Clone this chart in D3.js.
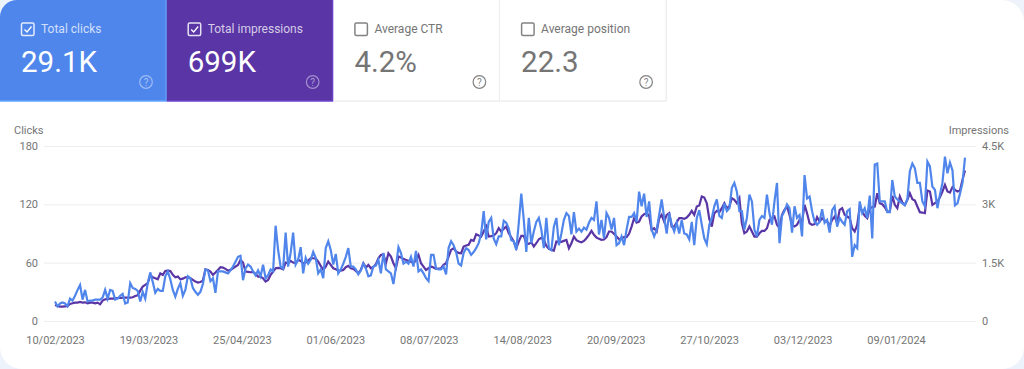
<!DOCTYPE html>
<html>
<head>
<meta charset="utf-8">
<script src="https://cdn.jsdelivr.net/npm/d3@7"></script>
<style>
    html, body { margin: 0; padding: 0; background: #eef3fb; overflow: hidden; }
    text { font-family: Roboto, sans-serif; }
</style>
</head>
<body>
<div id="chart"></div>
<script>
"use strict"

// the four summary tiles
const tileTitles = ["Total clicks", "Total impressions", "Average CTR", "Average position"];
const tileValues = ["29.1K", "699K", "4.2%", "22.3"];
const tileChecked = [true, true, false, false];
const tileColors = ["#4f86ec", "#5935a5", "#ffffff", "#ffffff"];

const startDate = "10/02/2023";
const xTickLabels = ["10/02/2023", "19/03/2023", "25/04/2023", "01/06/2023", "08/07/2023",
    "14/08/2023", "20/09/2023", "27/10/2023", "03/12/2023", "09/01/2024"];
const clickTicks = [0, 60, 120, 180];
const impressionTicks = [0, 1500, 3000, 4500];

// daily values
const clicks = [
    20,15,18,19,18,15,23,21,26,32,37,22,32,20,21,21,22,22,22,24,32,23,32,31,22,23,26,28,18,19,
    39,34,33,31,20,30,23,39,50,40,29,33,31,31,46,51,43,32,25,33,39,26,32,46,44,34,30,27,30,38,
    53,52,41,44,29,51,51,51,50,49,52,56,61,66,67,42,54,58,56,51,47,52,46,58,44,47,53,51,98,73,
    56,54,91,56,70,91,58,63,76,49,65,59,63,71,65,49,53,44,75,82,73,58,69,49,53,59,66,75,
    56,56,53,48,52,59,54,46,47,56,57,63,49,70,53,51,49,38,56,76,70,59,61,59,66,56,72,51,53,49,44,41,
    68,68,54,53,53,56,48,75,82,78,71,59,57,70,75,73,68,71,75,80,90,113,84,102,106,85,79,87,87,103,
    101,95,83,82,73,101,131,104,71,106,80,92,102,106,94,75,106,75,73,97,106,78,90,104,111,108,89,112,92,95,
    92,96,94,101,106,104,123,89,104,85,111,106,94,106,78,80,87,78,94,107,107,111,102,133,118,131,107,123,
    94,87,94,109,125,106,90,111,99,92,101,90,104,90,89,84,102,78,106,114,99,85,79,99,106,118,125,108,106,121,
    113,116,137,142,133,113,113,94,106,130,123,94,87,104,108,106,130,111,99,123,142,80,108,113,120,116,91,118,106,109,
    87,150,126,128,113,102,99,102,115,101,104,91,114,118,97,106,102,99,113,115,66,78,75,123,111,116,106,129,85,161,
    162,123,123,123,112,112,145,128,125,123,121,119,125,154,162,157,142,142,123,118,164,159,138,135,116,130,142,169,152,163,
    155,119,121,131,142,168
];
const impressions = [
    412,386,369,369,378,386,438,455,472,472,489,472,481,455,472,472,455,472,429,524,558,566,575,575,584,592,592,601,601,601,
    601,610,644,661,781,884,927,970,1185,1124,1099,1073,1227,1185,1288,1296,1288,1185,1124,1142,1073,1090,1124,1124,1099,1056,1013,987,1004,1039,
    1331,1314,1271,1185,1245,1314,1383,1374,1340,1297,1314,1357,1400,1443,1571,1503,1271,1263,1254,1263,1211,1142,1142,1100,1014,1057,1185,1271,1357,1365,
    1357,1331,1503,1485,1546,1503,1485,1571,1546,1485,1503,1554,1614,1614,1606,1528,1417,1314,1400,1528,1443,1357,1331,1297,1297,1314,1383,1417,
    1357,1340,1288,1228,1314,1486,1374,1442,1357,1391,1460,1614,1700,1717,1486,1743,1657,1486,1357,1657,1631,1597,1571,1546,1528,1486,1571,1700,1486,1400,1314,1357,
    1400,1374,1340,1348,1357,1442,1486,1657,1829,1872,1786,1752,1743,1915,1940,1958,2086,2060,2232,2198,2172,2301,2430,2172,2181,2198,2258,2387,2300,2369,
    2429,2258,2155,2043,1871,2043,2189,2189,2000,1983,2026,1914,2000,2103,2138,2086,1932,1854,1829,1811,2043,2035,2035,2060,2086,1871,2000,2172,2077,2043,
    2026,2060,2129,2215,2318,2215,2146,2112,2086,2095,2155,2301,2301,2241,2172,2103,2129,2155,2155,2241,2429,2644,2532,2558,2687,2747,2773,2704,
    2343,2386,2300,2643,2729,2557,2729,2772,2429,2429,2540,2643,2643,2626,2660,2729,2832,2729,2944,2969,3201,3175,3029,2626,2429,2772,2832,2798,2901,3029,
    2901,2944,3158,3115,3029,3158,2514,2257,2300,2429,2300,2171,2171,2257,2317,2317,2386,2600,2643,2686,2472,2386,2729,2858,2944,2729,2472,2429,2472,2600,
    2557,2987,2772,2514,2472,2489,2669,2558,2643,2583,2558,2446,2601,2687,2515,2858,2901,2729,2687,2643,2386,2300,2472,2944,2815,2704,2643,2901,2927,2944,
    3287,3030,3004,2927,2815,2815,3219,2987,2901,3201,3047,2987,3116,3287,3133,3098,2944,2798,2789,2772,3356,3330,2987,3030,3073,3184,3330,3502,3330,3304,
    3442,3373,3330,3356,3630,3871
];

let width = 1024, height = 369;
let parseDate = d3.utcParse("%d/%m/%Y");

let svg = d3.select("#chart").append("svg")
    .attr("width", width)
    .attr("height", height)
    .style("display", "block");

svg.append("rect")
    .attr("width", width)
    .attr("height", height)
    .attr("rx", 22)
    .style("fill", "#ffffff");

drawTiles();
drawChart();

function drawTiles() {
    let tileWidth = 166.7, tileHeight = 101;

    tileTitles.forEach(function(title, i) {
        let on = tileChecked[i];
        let g = svg.append("g").attr("transform", "translate(" + (i * tileWidth) + ",0)");

        if (i == 0) {
            // only the first tile follows the rounded corner of the card
            g.append("path")
                .attr("d", "M0,17A17,17 0 0 1 17,0H" + tileWidth + "V" + tileHeight + "H0Z")
                .style("fill", tileColors[i]);
        } else {
            g.append("rect")
                .attr("width", tileWidth)
                .attr("height", tileHeight)
                .style("fill", tileColors[i]);
        }

        // thin border on the right and at the bottom
        g.append("line")
            .attr("x1", 0).attr("x2", tileWidth)
            .attr("y1", tileHeight).attr("y2", tileHeight)
            .style("stroke", on ? d3.color(tileColors[i]).brighter(0.6) : "#eeeeee")
            .style("stroke-width", 1.5);
        g.append("line")
            .attr("x1", tileWidth - 0.5).attr("x2", tileWidth - 0.5)
            .attr("y1", 0).attr("y2", tileHeight)
            .style("stroke", on ? d3.color(tileColors[i]).brighter(0.6) : "#eeeeee")
            .style("stroke-width", 1.5);

        let main = on ? "#ffffff" : "#757575";

        g.append("rect")
            .attr("x", 21.5)
            .attr("y", 23)
            .attr("width", 12.5)
            .attr("height", 12.5)
            .attr("rx", 1.5)
            .style("fill", "none")
            .style("stroke", main)
            .style("stroke-opacity", on ? 0.85 : 0.9)
            .style("stroke-width", 1.5);

        if (on) {
            g.append("path")
                .attr("d", "M24.5,29.5L27,32L31.5,26.5")
                .style("fill", "none")
                .style("stroke", main)
                .style("stroke-width", 1.3);
        }

        g.append("text")
            .attr("x", 41)
            .attr("y", 33)
            .style("font-size", "12px")
            .style("fill", main)
            .style("fill-opacity", on ? 0.75 : 1)
            .text(title);

        g.append("text")
            .attr("x", 21)
            .attr("y", 72)
            .style("font-size", "29.5px")
            .style("fill", main)
            .text(tileValues[i]);

        // help icon
        g.append("circle")
            .attr("cx", 146)
            .attr("cy", 82)
            .attr("r", 6.3)
            .style("fill", "none")
            .style("stroke", main)
            .style("stroke-opacity", on ? 0.45 : 0.9)
            .style("stroke-width", 1.2);
        g.append("text")
            .attr("x", 146)
            .attr("y", 85.8)
            .attr("text-anchor", "middle")
            .style("font-size", "10px")
            .style("fill", main)
            .style("fill-opacity", on ? 0.5 : 0.9)
            .text("?");
    });
}

function drawChart() {
    let left = 55, right = 965, top = 146, bottom = 321;
    let gridLeft = 44, gridRight = 976;

    let first = parseDate(startDate);
    let dates = clicks.map(function(d, i) { return d3.utcDay.offset(first, i); });

    let x = d3.scaleUtc()
        .domain([first, dates[dates.length - 1]])
        .range([left, right]);
    let yClicks = d3.scaleLinear().domain([0, 180]).range([bottom, top]);
    let yImpressions = d3.scaleLinear().domain([0, 4500]).range([bottom, top]);

    // left axis carries the gridlines too
    let leftAxis = svg.append("g")
        .attr("transform", "translate(" + gridLeft + ",0)")
        .call(d3.axisLeft(yClicks).tickValues(clickTicks).tickSize(0).tickPadding(6));
    leftAxis.select(".domain").remove();

    leftAxis.selectAll(".tick").append("line")
        .attr("x1", 0)
        .attr("x2", gridRight - gridLeft)
        .style("stroke", "#eeeeee");

    let rightAxis = svg.append("g")
        .attr("transform", "translate(" + gridRight + ",0)")
        .call(d3.axisRight(yImpressions).tickValues(impressionTicks).tickSize(0).tickPadding(6)
            .tickFormat(function(d) { return d == 0 ? "0" : (d / 1000) + "K"; }));
    rightAxis.select(".domain").remove();

    // the labels sit evenly spaced, a bit wider than the daily steps of the lines
    let xLabels = d3.scalePoint().domain(xTickLabels).range([left, 896]);
    let bottomAxis = svg.append("g")
        .attr("transform", "translate(0," + (bottom + 12) + ")")
        .call(d3.axisBottom(xLabels).tickSize(0).tickPadding(3));
    bottomAxis.select(".domain").remove();

    svg.selectAll(".tick text")
        .style("font-family", "Roboto, sans-serif")
        .style("font-size", "11px")
        .style("fill", "#757575");

    svg.append("text")
        .attr("x", 14)
        .attr("y", 134)
        .style("font-size", "11px")
        .style("fill", "#757575")
        .text("Clicks");

    svg.append("text")
        .attr("x", 1009)
        .attr("y", 134)
        .attr("text-anchor", "end")
        .style("font-size", "11px")
        .style("fill", "#757575")
        .text("Impressions");

    let impressionLine = d3.line()
        .x(function(d, i) { return x(dates[i]); })
        .y(function(d) { return yImpressions(d); });
    let clickLine = d3.line()
        .x(function(d, i) { return x(dates[i]); })
        .y(function(d) { return yClicks(d); });

    svg.append("path")
        .attr("d", impressionLine(impressions))
        .style("fill", "none")
        .style("stroke", "#5935a5")
        .style("stroke-width", "2.2px");

    svg.append("path")
        .attr("d", clickLine(clicks))
        .style("fill", "none")
        .style("stroke", "#5086ec")
        .style("stroke-width", "2.2px");
}
</script>
</body>
</html>
